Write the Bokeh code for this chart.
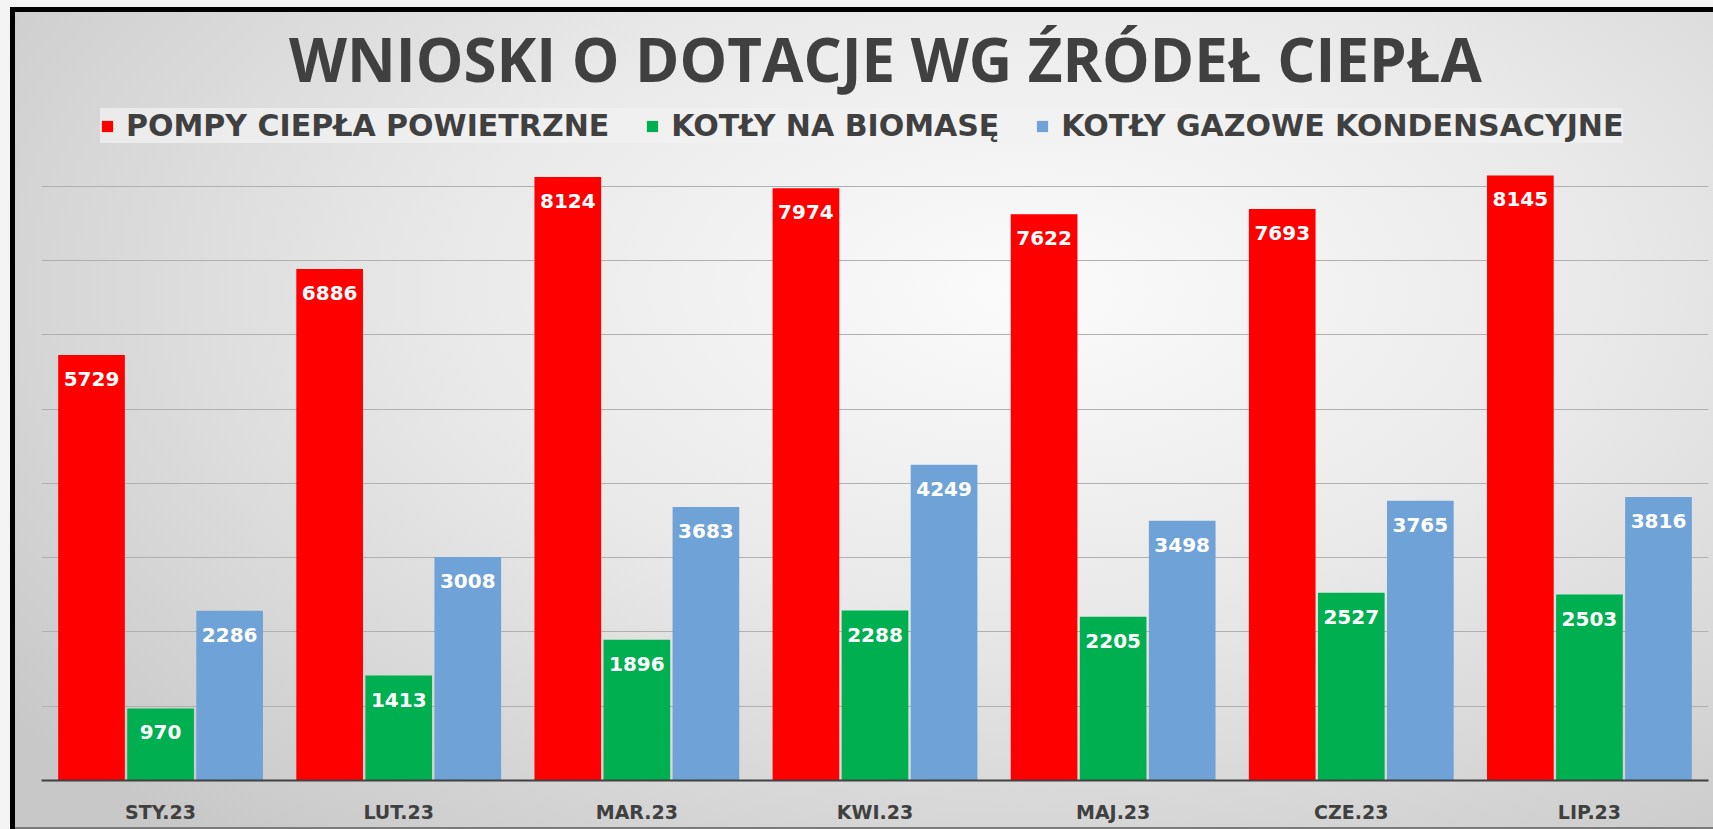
from bokeh.plotting import figure
from bokeh.models import (FactorRange, Range1d, FixedTicker, Legend, LegendItem,
                          Label, ColumnDataSource)
from bokeh.transform import dodge
from bokeh.core.properties import value
from bokeh.embed import file_html
from bokeh.resources import INLINE

# ---------------- data ----------------
months = ["STY.23", "LUT.23", "MAR.23", "KWI.23", "MAJ.23", "CZE.23", "LIP.23"]
pompy = [5729, 6886, 8124, 7974, 7622, 7693, 8145]
biomasa = [970, 1413, 1896, 2288, 2205, 2527, 2503]
gazowe = [2286, 3008, 3683, 4249, 3498, 3765, 3816]
series_names = ["POMPY CIEPŁA POWIETRZNE", "KOTŁY NA BIOMASĘ", "KOTŁY GAZOWE KONDENSACYJNE"]
grid_ticks = [1000, 2000, 3000, 4000, 5000, 6000, 7000, 8000]
title_text = "WNIOSKI O DOTACJE WG ŹRÓDEŁ CIEPŁA"

# ---------------- style ----------------
colors = ["#ff0000", "#00b050", "#6fa2d6"]
dark = "#404040"
W, H = 1713, 829
FRAME_LEFT = 41
FRAME_RIGHT = 5
FRAME_BOTTOM = 49
Y_END = 10500
BAR_W = 0.28
OFFS = [-0.29, 0.0, 0.29]

src = ColumnDataSource(dict(
    month=months,
    pompy=pompy, biomasa=biomasa, gazowe=gazowe,
    pompy_lbl=[str(v) for v in pompy],
    biomasa_lbl=[str(v) for v in biomasa],
    gazowe_lbl=[str(v) for v in gazowe],
))

p = figure(x_range=FactorRange(factors=months, range_padding=0),
           y_range=Range1d(0, Y_END),
           width=W, height=H, output_backend="svg", toolbar_location=None,
           y_axis_location=None,
           min_border_left=FRAME_LEFT, min_border_right=FRAME_RIGHT,
           min_border_top=0, min_border_bottom=FRAME_BOTTOM)

p.background_fill_alpha = 0
p.border_fill_alpha = 0
p.outline_line_color = None
p.styles = {
    "background": "radial-gradient(ellipse 75% 85% at 60% 35%, #fbfbfb 0%, #e9e9e9 45%, #c8c8c8 100%)",
    "box-shadow": "inset 10px 7px 0 0 #f4f4f4, inset 15px 12px 0 0 #000000, inset 0 -2px 0 0 #7a7a7a",
}

p.xgrid.visible = False
p.ygrid.ticker = FixedTicker(ticks=grid_ticks)
p.ygrid.grid_line_color = "#b0b0b0"
p.ygrid.grid_line_width = 1

xa = p.xaxis[0]
xa.axis_line_color = dark
xa.axis_line_width = 2
xa.major_tick_line_color = None
xa.minor_tick_line_color = None
xa.major_label_standoff = 14
xa.major_label_text_font = "DejaVu Sans"
xa.major_label_text_font_style = "bold"
xa.major_label_text_font_size = "19px"
xa.major_label_text_color = dark

cols = ["pompy", "biomasa", "gazowe"]
renderers = []
for col, off, c in zip(cols, OFFS, colors):
    r = p.vbar(x=dodge("month", off, range=p.x_range), top=col, width=BAR_W,
               source=src, fill_color=c, line_color=None)
    renderers.append(r)
    p.text(x=dodge("month", off, range=p.x_range), y=col, text=col + "_lbl",
           source=src, text_align="center", text_baseline="middle", y_offset=24,
           text_font=value("DejaVu Sans"), text_font_style="bold",
           text_font_size="20px", text_color="white")

legend = Legend(
    items=[LegendItem(label=n, renderers=[r]) for n, r in zip(series_names, renderers)],
    orientation="horizontal", location=(59, 637),
    glyph_width=14, glyph_height=14, label_standoff=12, spacing=36,
    padding=12, margin=0,
    label_text_font="DejaVu Sans", label_text_font_style="bold",
    label_text_font_size="30px", label_text_color=dark,
    background_fill_color="#f2f2f2", background_fill_alpha=0.75,
    border_line_color=None,
)
p.add_layout(legend, "center")

title = Label(x=844, y=722, x_units="screen", y_units="screen", text=title_text,
              text_font="Open Sans", text_font_style="bold", text_font_size="60px",
              text_color=dark, text_align="center", text_baseline="middle")
p.add_layout(title)

open("out.html", "w").write(file_html(p, INLINE))
